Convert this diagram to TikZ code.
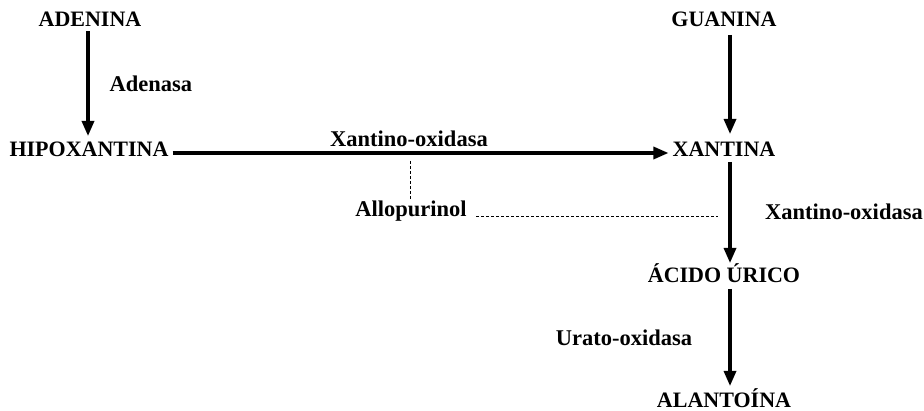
\documentclass[tikz,border=0pt]{standalone}
\usepackage{fontspec}
\setmainfont{Liberation Serif}
\usetikzlibrary{arrows.meta}
\begin{document}
\begin{tikzpicture}[x=1pt,y=-1pt,
  comp/.style={font=\fontsize{22}{24}\selectfont\bfseries, inner sep=0pt, anchor=center},
  enz/.style={font=\fontsize{22.5}{24}\selectfont\bfseries, inner sep=0pt},
  react/.style={line width=3.2pt, -{Triangle[length=15pt,width=12pt]}},
  inhib/.style={line width=0.7pt, dash pattern=on 3pt off 2pt}]
\useasboundingbox (0,0) rectangle (924,411);
\node[comp] (ade) at (90,19) {ADENINA};
\node[comp] (gua) at (724,19) {GUANINA};
\node[comp] (hipo) at (89,149) {HIPOXANTINA};
\node[comp] (xan) at (724,149) {XANTINA};
\node[comp] (acido) at (724,273) {ÁCIDO ÚRICO};
\node[comp] (alan) at (724,398) {ALANTOÍNA};
\node[enz] (adenasa) at (151,84) {Adenasa};
\node[enz] (xo1) at (409,139) {Xantino-oxidasa};
\node[enz] (allo) at (411,211) {Allopurinol};
\node[enz] (xo2) at (844,212) {Xantino-oxidasa};
\node[enz] (urato) at (624,338) {Urato-oxidasa};
\coordinate (dtop) at (410,161);
\coordinate (dbot) at (410,199);
\coordinate (dend) at (718,216);
\draw[react] (ade.south -| 88,0) ++(0,5) -- (88,136);
\draw[react] (hipo.east) ++(4,4) coordinate (hs) -- ([xshift=-4pt]hs -| xan.west);
\draw[react] (730,35) -- (730,134);
\draw[react] (730,162) -- (730,263);
\draw[react] (730,289) -- (730,386);
\draw[inhib] (dtop) -- (dbot);
\draw[inhib] (476,216) coordinate (as) -- (as -| dend);
\end{tikzpicture}
\end{document}
